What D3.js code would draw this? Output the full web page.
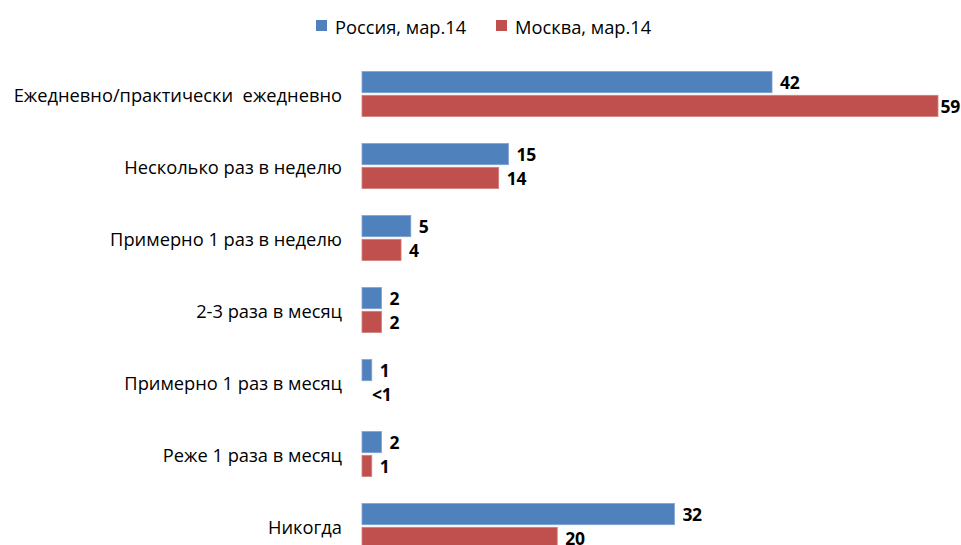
<!DOCTYPE html>
<html><head><meta charset="utf-8">
<script src="https://cdn.jsdelivr.net/npm/d3@7"></script>
<style>body{margin:0;background:#fff;} svg{display:block;}</style>
</head><body>
<svg id="c" width="961" height="545"></svg>
<script>
const categories = ["Ежедневно/практически  ежедневно","Несколько раз в неделю","Примерно 1 раз в неделю","2-3 раза в месяц","Примерно 1 раз в месяц","Реже 1 раза в месяц","Никогда"];
const seriesNames = ["Россия, мар.14","Москва, мар.14"];
const russia = [42,15,5,2,1,2,32];
const moscow = [59,14,4,2,0,1,20];
const russiaLabels = ["42","15","5","2","1","2","32"];
const moscowLabels = ["59","14","4","2","<1","1","20"];
const colors = ["#4F81BD","#C0504D"];

const svg = d3.select("#c");
const font = "'Open Sans', sans-serif";
const x = d3.scaleLinear().domain([0,59]).range([362,938]);
const y = d3.scaleBand().domain(categories).range([58,562]);
const inner = d3.scaleBand().domain([0,1]).range([-22.5,22.5]).paddingInner(0.11);

const series = [russia, moscow];
const labels = [russiaLabels, moscowLabels];

categories.forEach((cat,i)=>{
  const c = y(cat)+y.bandwidth()/2;
  svg.append("text").attr("x",342).attr("y",c).attr("text-anchor","end")
    .attr("dominant-baseline","central").attr("font-family",font).attr("font-size",18.3)
    .attr("fill","#000").attr("xml:space","preserve").style("white-space","pre").text(cat);
  series.forEach((s,k)=>{
    const y0 = c+inner(k);
    const v = s[i];
    if (v>0) {
      svg.append("rect").attr("x",x(0)).attr("y",y0).attr("width",x(v)-x(0)).attr("height",inner.bandwidth())
        .attr("fill",colors[k]).attr("stroke", k===0?"#7FA3D3":"#D47F7C").attr("stroke-width",0.8);
    }
    const lx = v>0 ? x(v)+8 : x(0)+10;
    const t = svg.append("text").attr("x",lx).attr("y",y0+inner.bandwidth()/2).attr("dominant-baseline","central")
      .attr("font-family",font).attr("font-size",17.5).attr("font-weight","bold").attr("fill","#000")
      .attr("letter-spacing",-0.3).text(labels[k][i]);
    const w = t.node().getComputedTextLength();
    if (lx + w > 960) t.attr("x", 960 - w);
  });
});

// legend
const legX = [316,496];
seriesNames.forEach((n,k)=>{
  svg.append("rect").attr("x",legX[k]).attr("y",20).attr("width",11).attr("height",11).attr("fill",colors[k]);
  svg.append("text").attr("x",legX[k]+19).attr("y",26).attr("dominant-baseline","central")
    .attr("font-family",font).attr("font-size",18.3).attr("fill","#000").text(n);
});
</script>
</body></html>
